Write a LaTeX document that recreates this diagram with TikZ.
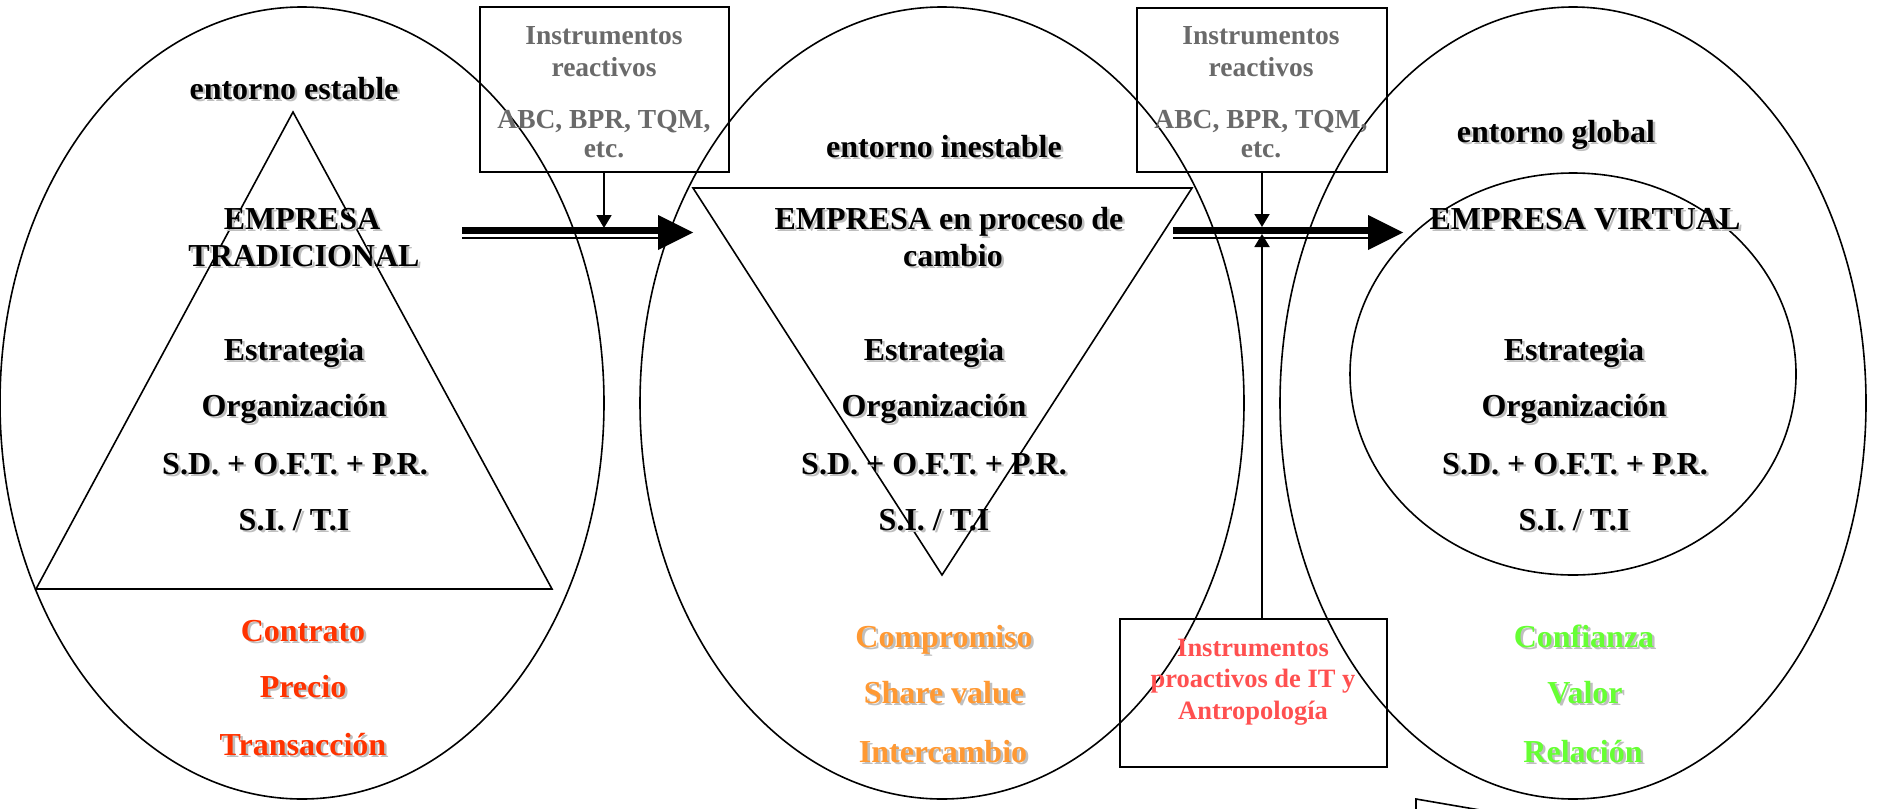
\documentclass[tikz,border=0pt]{standalone}
\usepackage{fontspec}
\setmainfont{Liberation Serif}
\usetikzlibrary{shapes.geometric,arrows.meta}
\definecolor{redt}{HTML}{FF3300}
\definecolor{orat}{HTML}{FF9933}
\definecolor{grnt}{HTML}{66FF33}
\definecolor{prot}{HTML}{FF5050}
\definecolor{grayt}{HTML}{6A6A6A}
\newcommand\shtxt[2]{\makebox[0pt][l]{\kern2.5pt\raisebox{-2.5pt}{\textcolor{black!25}{#2}}}\textcolor{#1}{#2}}
\begin{document}
\begin{tikzpicture}[x=1pt,y=-1pt,
  env/.style={draw, line width=1.6pt, ellipse, inner sep=0pt},
  tri/.style={draw, line width=1.6pt, line join=miter},
  box/.style={draw, line width=1.8pt, rectangle, inner sep=0pt},
  big/.style={anchor=base, inner sep=0pt, font=\fontsize{32}{38}\selectfont\bfseries},
  small/.style={anchor=base, inner sep=0pt, font=\fontsize{27.5}{32}\selectfont\bfseries},
  vconn/.style={line width=1.8pt, -{Triangle[length=13pt,width=15pt]}},
]
\useasboundingbox (0,0) rectangle (1878,808);
\clip (0,0) rectangle (1878,808);
\fill[white] (0,0) rectangle (1878,808);

% environments
\node[env, minimum width=604pt, minimum height=792pt] (e1) at (302,403) {};
\node[env, minimum width=604pt, minimum height=792pt] (e2) at (942,403) {};
\node[env, minimum width=586pt, minimum height=792pt] (e3) at (1573,403) {};
\node[env, minimum width=446pt, minimum height=402pt] (c3) at (1573,374) {};

% triangles
\draw[tri] (293,112) -- (552,589) -- (36,589) -- cycle;
\draw[tri] (693,188) -- (1192,188) -- (942,575) -- cycle;

% boxes
\node[box, minimum width=249pt, minimum height=165pt] (b1) at (604.5,89.5) {};
\node[box, minimum width=250pt, minimum height=164pt] (b2) at (1262,90) {};
\node[box, minimum width=267pt, minimum height=148pt] (b3) at (1253.5,693) {};

% thick arrows
\coordinate (a1s) at (462,232.5);
\coordinate (a1e) at (693,232.5);
\coordinate (a2s) at (1173,232.5);
\coordinate (a2e) at (1403,232.5);
\foreach \s/\e in {a1s/a1e, a2s/a2e}{
  \draw[line width=7pt] ([yshift=2pt]\s) -- ([yshift=2pt,xshift=-33pt]\e);
  \draw[line width=2pt] ([yshift=-5pt]\s) -- ([yshift=-5pt,xshift=-33pt]\e);
  \fill (\e) -- ++(-35,-17.5) -- ++(0,35) -- cycle;
}

% vertical connectors
\coordinate (v1) at (604,228);
\coordinate (v2) at (1262,227);
\coordinate (v3) at (1262,234);
\draw[vconn] (b1.south -| v1) -- (v1);
\draw[vconn] (b2.south -| v2) -- (v2);
\draw[vconn] (b3.north -| v3) -- (v3);

% partial shape bottom right
\draw[line width=1.6pt] (1416,820) -- (1416,799) -- (1550,822);

% box texts
\node[small, text=grayt] (r1a) at (604,45) {Instrumentos};
\node[small, text=grayt] (r1b) at (604,77) {reactivos};
\node[small, text=grayt] (r1c) at (604,128) {ABC, BPR, TQM,};
\node[small, text=grayt] (r1d) at (604,157) {etc.};
\node[small, text=grayt] (r2a) at (1261,45) {Instrumentos};
\node[small, text=grayt] (r2b) at (1261,77) {reactivos};
\node[small, text=grayt] (r2c) at (1261,128) {ABC, BPR, TQM,};
\node[small, text=grayt] (r2d) at (1261,157) {etc.};
\node[small, text=prot, font=\fontsize{26.5}{32}\selectfont\bfseries] (p1) at (1253,656) {Instrumentos};
\node[small, text=prot, font=\fontsize{26.5}{32}\selectfont\bfseries] (p2) at (1253,687) {proactivos de IT y};
\node[small, text=prot, font=\fontsize{26.5}{32}\selectfont\bfseries] (p3) at (1253,719) {Antropología};

% ellipse 1 texts
\node[big] (t1) at (294,99) {\shtxt{black}{entorno estable}};
\node[big] (t2) at (302,229) {\shtxt{black}{EMPRESA}};
\node[big] (t3) at (304,266) {\shtxt{black}{TRADICIONAL}};
\node[big] (t4) at (294,360) {\shtxt{black}{Estrategia}};
\node[big] (t5) at (294,416) {\shtxt{black}{Organización}};
\node[big] (t6) at (295,474) {\shtxt{black}{S.D. + O.F.T. + P.R.}};
\node[big] (t7) at (294,530) {\shtxt{black}{S.I. / T.I}};
\node[big] (t8) at (303,641) {\shtxt{redt}{Contrato}};
\node[big] (t9) at (303,697) {\shtxt{redt}{Precio}};
\node[big] (t10) at (303,755) {\shtxt{redt}{Transacción}};

% ellipse 2 texts
\node[big] (u1) at (944,157) {\shtxt{black}{entorno inestable}};
\node[big] (u2) at (949,229) {\shtxt{black}{EMPRESA en proceso de}};
\node[big] (u3) at (953,266) {\shtxt{black}{cambio}};
\node[big] (u4) at (934,360) {\shtxt{black}{Estrategia}};
\node[big] (u5) at (934,416) {\shtxt{black}{Organización}};
\node[big] (u6) at (934,474) {\shtxt{black}{S.D. + O.F.T. + P.R.}};
\node[big] (u7) at (934,530) {\shtxt{black}{S.I. / T.I}};
\node[big] (u8) at (944,647) {\shtxt{orat}{Compromiso}};
\node[big] (u9) at (944,703) {\shtxt{orat}{Share value}};
\node[big] (u10) at (943,762) {\shtxt{orat}{Intercambio}};

% ellipse 3 texts
\node[big] (w1) at (1556,142) {\shtxt{black}{entorno global}};
\node[big] (w2) at (1585,229) {\shtxt{black}{EMPRESA VIRTUAL}};
\node[big] (w4) at (1574,360) {\shtxt{black}{Estrategia}};
\node[big] (w5) at (1574,416) {\shtxt{black}{Organización}};
\node[big] (w6) at (1575,474) {\shtxt{black}{S.D. + O.F.T. + P.R.}};
\node[big] (w7) at (1574,530) {\shtxt{black}{S.I. / T.I}};
\node[big] (w8) at (1584,647) {\shtxt{grnt}{Confianza}};
\node[big] (w9) at (1585,703) {\shtxt{grnt}{Valor}};
\node[big] (w10) at (1583,762) {\shtxt{grnt}{Relación}};
\end{tikzpicture}
\end{document}
